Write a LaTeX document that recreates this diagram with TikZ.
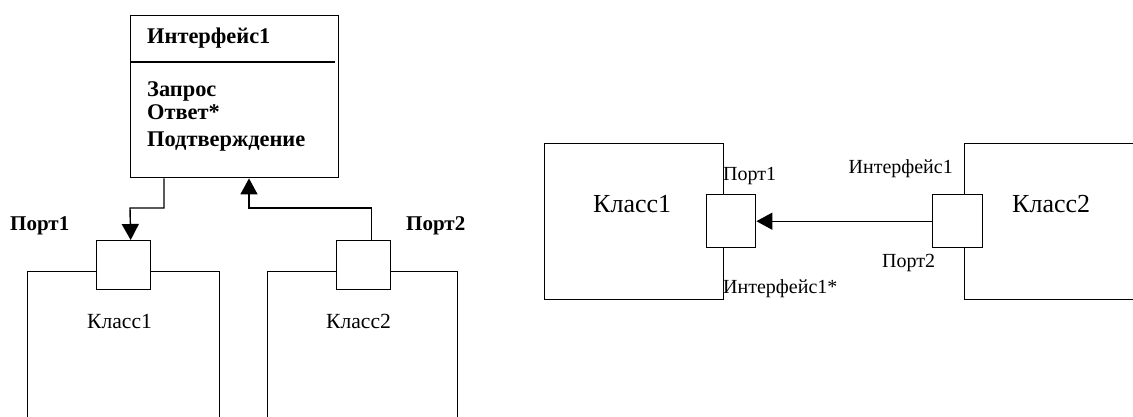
\documentclass[tikz,border=0pt]{standalone}
\usepackage{fontspec}
\setmainfont{Liberation Serif}
\usetikzlibrary{arrows.meta}
\tikzset{
  box/.style={draw, line width=1.4pt, fill=white, inner sep=0pt, anchor=north west},
  conn/.style={line width=1.4pt},
  arr/.style={line width=1.4pt, -{Triangle[length=16pt,width=17pt]}},
  lbl/.style={inner sep=0pt, anchor=base west},
  lblr/.style={inner sep=0pt, anchor=base east},
  bsmall/.style={font=\fontsize{22.4}{26}\selectfont\bfseries},
  bport/.style={font=\fontsize{21}{25}\selectfont\bfseries},
  nsmall/.style={font=\fontsize{20}{24}\selectfont},
  nlarge/.style={font=\fontsize{26}{30}\selectfont},
  nmid/.style={font=\fontsize{21.6}{25}\selectfont},
}
\begin{document}
\begin{tikzpicture}[x=1pt,y=-1pt]
\useasboundingbox (0,0) rectangle (1133,416);
% ---------- left diagram ----------
\node[box, minimum width=208pt, minimum height=162pt] (iface) at (130,15) {};
\draw[conn] (130,62) coordinate (dl) -- (335,62) coordinate (dr);
\node[lbl, bsmall] (ifname) at (147,43) {Интерфейс1};
\node[lbl, bsmall] (op1) at (147,96) {Запрос};
\node[lbl, bsmall] (op2) at (147,119) {Ответ*};
\node[lbl, bsmall] (op3) at (147,146) {Подтверждение};

\node[box, minimum width=192pt, minimum height=170pt] (cls1) at (27,271) {};
\node[box, minimum width=190pt, minimum height=170pt] (cls2) at (267,271) {};
\node[box, minimum width=54pt, minimum height=49pt] (p1) at (96,240) {};
\node[box, minimum width=54pt, minimum height=49pt] (p2) at (336,240) {};
\node[lbl, bport] (p1l) at (10,230) {Порт1};
\node[lbl, bport] (p2l) at (406,230) {Порт2};
\node[lbl, nmid] (c1l) at (87,328) {Класс1};
\node[lbl, nmid] (c2l) at (326,328) {Класс2};

\draw[arr] ([xshift=34pt]iface.south west) |- (130,208) -- ([xshift=7pt]p1.north);
\draw[arr] ([xshift=8pt]p2.north) |- (249,208) -- ([xshift=119pt]iface.south west);

% ---------- right diagram ----------
\node[box, minimum width=179pt, minimum height=156pt] (rc1) at (544,143) {};
\node[box, minimum width=190pt, minimum height=156pt] (rc2) at (964,143) {};
\node[box, minimum width=49pt, minimum height=53pt] (rp1) at (706,194) {};
\node[box, minimum width=50pt, minimum height=53pt] (rp2) at (932,194) {};
\node[lbl, nlarge] (rc1l) at (593,212) {Класс1};
\node[lbl, nlarge] (rc2l) at (1012,212) {Класс2};
\node[lbl, nsmall] (rp1l) at (723,180) {Порт1};
\node[lbl, nsmall] (rp1i) at (723,293) {Интерфейс1*};
\node[lblr, nsmall] (rp2i) at (953,173) {Интерфейс1};
\node[lbl, nsmall] (rp2l) at (882,267) {Порт2};
\draw[arr] (rp2.west) -- (rp1.east);
\end{tikzpicture}
\end{document}
